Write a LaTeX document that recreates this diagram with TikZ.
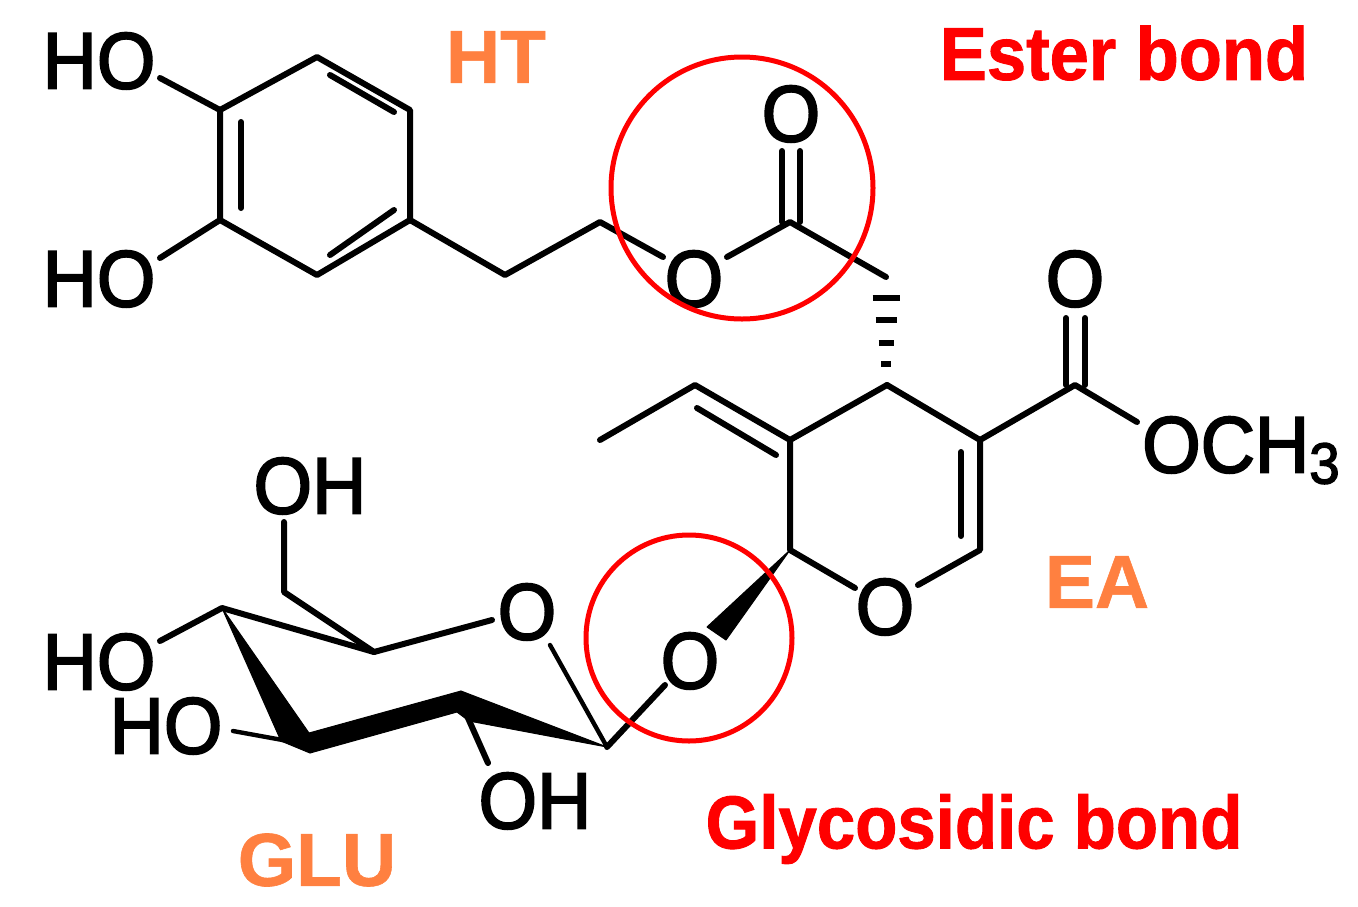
\documentclass[tikz,border=0pt]{standalone}
\usepackage{fontspec}
\setmainfont{Liberation Sans}[FakeBold=0.8]
\newfontfamily\atomfam[FakeStretch=0.94,FakeBold=2.4]{Liberation Sans}
\newfontfamily\estfam[FakeStretch=0.94,FakeBold=1.2]{Liberation Sans}
\newfontfamily\glyfam[FakeStretch=0.92,FakeBold=1.2]{Liberation Sans}
\definecolor{lab}{RGB}{255,128,64}
\definecolor{bondred}{RGB}{255,0,0}
\tikzset{
 bond/.style={line width=6pt,black,line cap=round,line join=round},
 thinbond/.style={line width=4.4pt,black,line cap=round},
 atom/.style={inner sep=0pt,text=black,font=\atomfam\fontsize{80}{80}\selectfont,text height=57,text depth=0},
 olabel/.style={inner sep=0pt,text=lab,font=\fontsize{75}{75}\selectfont\bfseries},
 estlabel/.style={inner sep=0pt,text=bondred,font=\estfam\fontsize{75}{75}\selectfont\bfseries},
 glylabel/.style={inner sep=0pt,text=bondred,font=\glyfam\fontsize{75}{75}\selectfont\bfseries},
 ring/.style={draw=bondred,line width=5pt,circle,inner sep=0pt},
 wedgefill/.style={fill=black,draw=black,line width=1pt,line join=round}
}
\begin{document}
\begin{tikzpicture}[x=1pt,y=-1pt]
\useasboundingbox (0,0) rectangle (1358,906);
% atom labels
\node[atom] (ho1) at (99,60) {HO};
\node[atom] (ho2) at (99,278) {HO};
\node[atom] (o1) at (694,278) {O};
\node[atom] (o2) at (791,113) {O};
\node[atom] (o3) at (1075,278) {O};
\node[atom,anchor=west] (och) at (1142,444) {OCH\raisebox{-11pt}{\fontsize{58}{58}\selectfont 3}};
\node[atom] (o4) at (885,606) {O};
\node[atom] (o5) at (690,660) {O};
\node[atom] (o6) at (527,611) {O};
\node[atom] (oh1) at (310,485) {OH};
\node[atom] (ho3) at (99,661) {HO};
\node[atom] (ho4) at (166,725) {HO};
\node[atom] (oh2) at (535,800) {OH};
% skeleton coordinates
\coordinate (a1) at (220,110);
\coordinate (a2) at (317,57);
\coordinate (a3) at (410,110);
\coordinate (a4) at (410,220);
\coordinate (a5) at (317,275);
\coordinate (a6) at (220,220);
\coordinate (b1) at (505,275);
\coordinate (b2) at (600,222);
\coordinate (c1) at (790,222);
\coordinate (c2) at (886,277);
\coordinate (c3) at (887,385);
\coordinate (d1) at (980,440);
\coordinate (d2) at (980,550);
\coordinate (d3) at (790,440);
\coordinate (d4) at (790,550);
\coordinate (e1) at (695,385);
\coordinate (e2) at (600,440);
\coordinate (f1) at (1075,385);
\coordinate (g1) at (607,747);
\coordinate (g2) at (374,652);
\coordinate (g3) at (284,592);
\coordinate (g4) at (222,608);
\coordinate (g5) at (310,745);
\coordinate (g6) at (460,700);
\coordinate (h1) at (160,78);
\coordinate (h2) at (160,258);
\coordinate (h3) at (160,641);
\coordinate (h4) at (233,731);
\coordinate (h5) at (488,763);
\coordinate (o1l) at (663,257);
\coordinate (o1r) at (727,257);
\coordinate (o4l) at (855,588);
\coordinate (o4r) at (918,585);
\coordinate (o5a) at (665,685);
\coordinate (o6a) at (492,620);
\coordinate (o6b) at (550,645);
\coordinate (och1) at (1137,422);
\coordinate (oh1a) at (284,522);
% bonds
\draw[bond] (h1) -- (a1);
\draw[bond] (a1) -- (a2) -- (a3) -- (a4) -- (a5) -- (a6) -- cycle;
\draw[bond] (h2) -- (a6);
\draw[bond] (241,122) -- (241,208);
\draw[bond] (330,75) -- (394,112);
\draw[bond] (330,255) -- (394,210);
\draw[bond] (a4) -- (b1) -- (b2) -- (o1l);
\draw[bond] (o1r) -- (c1) -- (c2);
\draw[bond] (782,222) -- (782,151);
\draw[bond] (800,222) -- (800,151);
\draw[bond] (c3) -- (d1) -- (d2) -- (o4r);
\draw[bond] (c3) -- (d3) -- (e1) -- (e2);
\draw[bond] (d3) -- (d4) -- (o4l);
\draw[bond] (776,455) -- (697,408);
\draw[bond] (961,452) -- (961,536);
\draw[bond] (d1) -- (f1) -- (och1);
\draw[bond] (1066,385) -- (1066,318);
\draw[bond] (1085,385) -- (1085,318);
% hashed wedge
\foreach \y/\w in {298/13.5,320/10.5,343/7.5,364/5}
  \draw[line width=6pt,black] (886-\w,\y) -- (886+\w,\y);
% solid wedges
\fill[wedgefill] (d4) -- (707,627) -- (726,640) -- cycle;
\draw[bond] (o5a) -- (g1);
\draw[thinbond] (g1) -- (o6b);
\draw[bond] (o6a) -- (g2) -- (g3) -- (oh1a);
\draw[bond] (g2) -- (g4) -- (h3);
\fill[wedgefill] (g4) -- (281,741) -- (310,753) -- (309,733) -- cycle;
\fill[wedgefill] (309,733) -- (310,753) -- (457,712) -- (461,691) -- cycle;
\fill[wedgefill] (g1) -- (461,691) -- (457,712) -- (469,721) -- cycle;
\draw[thinbond] (h4) -- (g5);
\draw[bond] (g6) -- (h5);
% circles
\node[ring,minimum size=262pt] (r1) at (742,188) {};
\node[ring,minimum size=206pt] (r2) at (689,638) {};
% labels
\node[olabel] (ht) at (496,57) {HT};
\node[olabel] (ea) at (1097,582) {EA};
\node[olabel] (glu) at (317,860) {GLU};
\node[estlabel] (est) at (1124,53) {Ester bond};
\node[glylabel] (gly) at (974,829) {Glycosidic bond};
\end{tikzpicture}
\end{document}
